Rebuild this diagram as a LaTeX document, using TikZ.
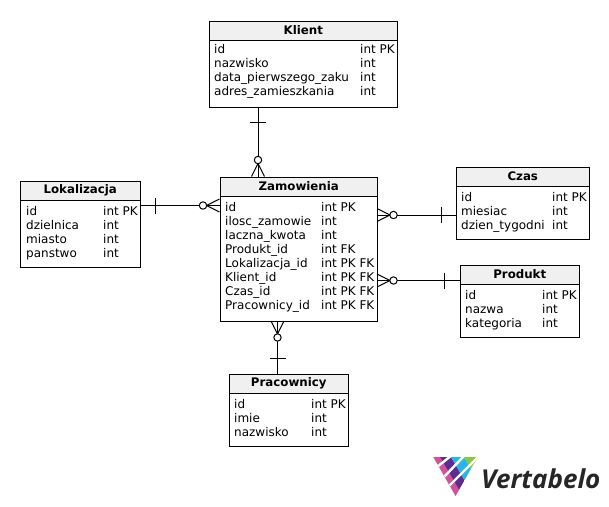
\documentclass[tikz,border=0pt]{standalone}
\usepackage{fontspec}
\setmainfont{DejaVu Sans}
\newfontfamily\logofont{Open Sans}
\definecolor{hdr}{HTML}{F0F0F0}
\definecolor{vpink}{HTML}{D4509A}
\definecolor{vpurple}{HTML}{5B2D90}
\definecolor{vblue}{HTML}{2AB5E8}
\definecolor{vgreen}{HTML}{8DC63F}
\tikzset{
  x=1pt,y=-1pt,
  tbox/.style={draw=black,line width=1pt,fill=white,minimum width=#1,inner sep=0pt,anchor=north west},
  thead/.style={draw=black,line width=1pt,fill=hdr,minimum width=#1,minimum height=19pt,inner sep=0pt,anchor=north west,font=\fontsize{11.8}{13}\selectfont\bfseries},
  row/.style={anchor=base west,inner sep=0pt,font=\fontsize{12}{13}\selectfont},
  link/.style={line width=1pt},
  pics/many/.style={code={
    \draw[line width=1pt] (0,-6.5) -- (13,0) -- (0,6.5);
    \draw[line width=1pt] (0,0) -- (13,0);
    \draw[line width=1pt,fill=white] (16.5,0) circle[radius=3.7];
  }},
  pics/one/.style={code={\draw[line width=1pt] (0,-8) -- (0,8);}},
  stripe/.style={white,line width=2.4pt},
}
\newcommand{\tablebox}[6]{% name, x, y, width, height, title
  \node[tbox=#4,minimum height=#5] (#1) at (#2,#3) {};
  \node[thead=#4] (#1h) at (#2,#3) {#6};
}
\newcommand{\tablerows}[5]{% name, x1, x2, first baseline, rows
  \foreach \n/\a [count=\i from 0] in {#5}{
    \node[row] (#1a\i) at (#2,{#4+14*\i}) {\n};
    \node[row] (#1b\i) at (#3,{#4+14*\i}) {\a};
  }
}
\begin{document}
\begin{tikzpicture}
\useasboundingbox (0,0) rectangle (609,506);
\fill[white] (0,0) rectangle (609,506);
% tables
\tablebox{klient}{208.5}{20.5}{188.5pt}{86pt}{Klient}
\tablebox{lok}{19.5}{180.5}{120.5pt}{86pt}{Lokalizacja}
\tablebox{zam}{219.5}{176.5}{157.5pt}{144.5pt}{Zamowienia}
\tablebox{czas}{455.5}{166.5}{133.5pt}{72.5pt}{Czas}
\tablebox{prod}{459.5}{264.5}{119.5pt}{72.5pt}{Produkt}
\tablebox{prac}{228.5}{373.5}{119.5pt}{72.5pt}{Pracownicy}
% connector ends
\coordinate (k1) at (258,106.5); \coordinate (z1) at (258,176.5);
\coordinate (l2) at (140,205.5); \coordinate (z2) at (219.5,205.5);
\coordinate (z3) at (377,215); \coordinate (c3) at (455.5,215);
\coordinate (z4) at (377,280.5); \coordinate (p4) at (459.5,280.5);
\coordinate (z5) at (277.5,321); \coordinate (r5) at (277.5,373.5);
\draw[link] (k1) -- (z1);
\draw[link] (l2) -- (z2);
\draw[link] (z3) -- (c3);
\draw[link] (z4) -- (p4);
\draw[link] (z5) -- (r5);
\pic[rotate=90] at (z1) {many};
\pic[rotate=180] at (z2) {many};
\pic at (z3) {many};
\pic at (z4) {many};
\pic[rotate=-90] at (z5) {many};
\pic[rotate=90] at (258,122) {one};
\pic at (155,205.5) {one};
\pic at (441,215) {one};
\pic at (444,280.5) {one};
\pic[rotate=90] at (277.5,358) {one};
% rows
\tablerows{klient}{214}{360}{53}{id/int PK,nazwisko/int,data\_pierwszego\_zaku/int,adres\_zamieszkania/int}
\tablerows{lok}{26}{103}{215}{id/int PK,dzielnica/int,miasto/int,panstwo/int}
\tablerows{zam}{225}{321}{211}{id/int PK,ilosc\_zamowie/int,laczna\_kwota/int,Produkt\_id/int FK,Lokalizacja\_id/int PK FK,Klient\_id/int PK FK,Czas\_id/int PK FK,Pracownicy\_id/int PK FK}
\tablerows{czas}{461}{552}{201}{id/int PK,miesiac/int,dzien\_tygodni/int}
\tablerows{prod}{465}{542}{299}{id/int PK,nazwa/int,kategoria/int}
\tablerows{prac}{234}{311}{408}{id/int PK,imie/int,nazwisko/int}
% logo
\begin{scope}
\clip (433.3,457) -- (477.7,457) -- (455.5,496) -- cycle;
\fill[vpink] (425,457) -- (440,457) -- (463.2,497) -- (448.2,497) -- cycle;
\fill[vpurple] (440,457) -- (451,457) -- (474.2,497) -- (463.2,497) -- cycle;
\fill[vblue] (451,457) -- (464,457) -- (487.2,497) -- (474.2,497) -- cycle;
\fill[vgreen] (464,457) -- (482,457) -- (505.2,497) -- (487.2,497) -- cycle;
\draw[stripe] (437,467) -- (452,455);
\draw[stripe] (443,478) -- (464,456);
\draw[stripe] (448,487) -- (479,456);
\end{scope}
\node[anchor=base west,inner sep=0pt,font={\logofont\fontsize{26}{30}\selectfont\bfseries\itshape},text=black!85] (logo) at (481,488) {Vertabelo};
\end{tikzpicture}
\end{document}
